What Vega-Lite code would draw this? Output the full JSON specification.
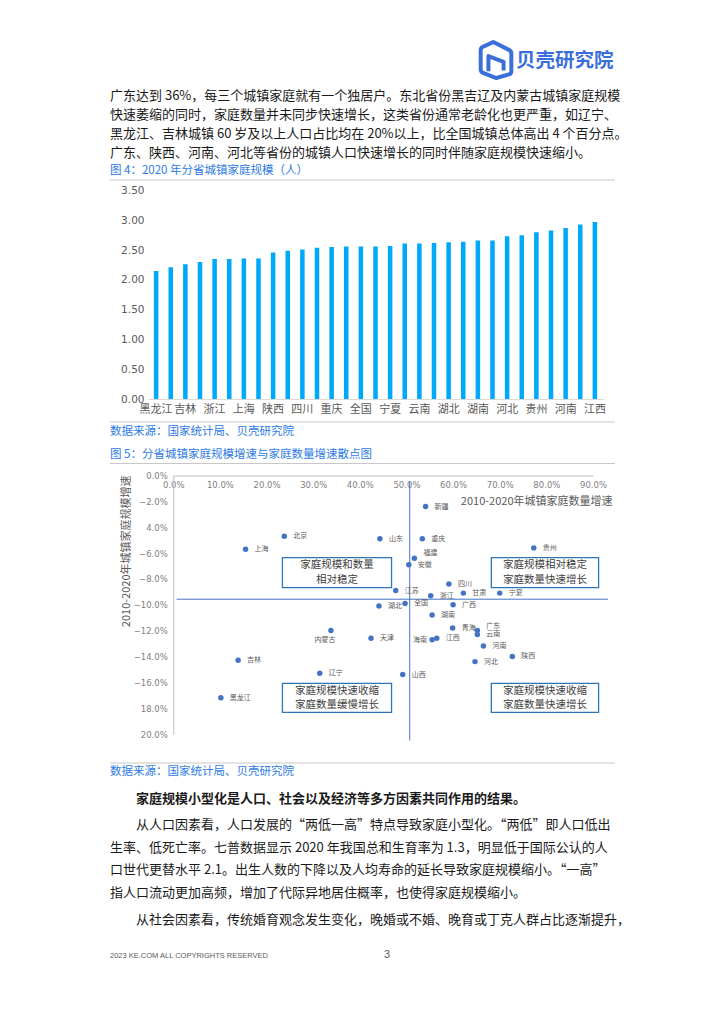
{
  "$schema": "https://vega.github.io/schema/vega-lite/v6.json",
  "width": 724,
  "height": 1024,
  "autosize": {"type": "none"},
  "padding": 0,
  "background": "#ffffff",
  "config": {
    "view": {"stroke": null},
    "font": "Noto Sans CJK SC",
    "axis": {"grid": false, "ticks": false, "labelFont": "DejaVu Sans"}
  },
  "datasets": {
    "bars": [
      {"p": "黑龙江", "v": 2.15}, {"p": "辽宁", "v": 2.21}, {"p": "吉林", "v": 2.26}, {"p": "内蒙古", "v": 2.30},
      {"p": "浙江", "v": 2.35}, {"p": "天津", "v": 2.35}, {"p": "上海", "v": 2.36}, {"p": "北京", "v": 2.36},
      {"p": "陕西", "v": 2.46}, {"p": "广东", "v": 2.49}, {"p": "四川", "v": 2.51}, {"p": "山西", "v": 2.54},
      {"p": "重庆", "v": 2.55}, {"p": "江苏", "v": 2.56}, {"p": "全国", "v": 2.56}, {"p": "山东", "v": 2.56},
      {"p": "宁夏", "v": 2.57}, {"p": "福建", "v": 2.61}, {"p": "云南", "v": 2.61}, {"p": "新疆", "v": 2.62},
      {"p": "湖北", "v": 2.63}, {"p": "安徽", "v": 2.64}, {"p": "湖南", "v": 2.66}, {"p": "青海", "v": 2.66},
      {"p": "河北", "v": 2.73}, {"p": "甘肃", "v": 2.75}, {"p": "贵州", "v": 2.80}, {"p": "广西", "v": 2.83},
      {"p": "河南", "v": 2.87}, {"p": "海南", "v": 2.93}, {"p": "江西", "v": 2.97}
    ],
    "pts": [
      {"p": "新疆", "x": 54.1, "y": -2.4, "lp": "r"},
      {"p": "北京", "x": 23.8, "y": -4.7, "lp": "r"},
      {"p": "山东", "x": 44.3, "y": -4.9, "lp": "r"},
      {"p": "重庆", "x": 53.4, "y": -4.9, "lp": "r"},
      {"p": "贵州", "x": 77.3, "y": -5.6, "lp": "r"},
      {"p": "上海", "x": 15.5, "y": -5.7, "lp": "r"},
      {"p": "福建", "x": 51.7, "y": -6.4, "lp": "u"},
      {"p": "安徽", "x": 50.5, "y": -6.9, "lp": "r"},
      {"p": "四川", "x": 59.1, "y": -8.4, "lp": "r"},
      {"p": "江苏", "x": 47.7, "y": -8.9, "lp": "r"},
      {"p": "甘肃", "x": 62.2, "y": -9.1, "lp": "r"},
      {"p": "宁夏", "x": 70.0, "y": -9.1, "lp": "r"},
      {"p": "浙江", "x": 55.2, "y": -9.3, "lp": "r"},
      {"p": "全国", "x": 49.7, "y": -9.9, "lp": "r"},
      {"p": "广西", "x": 60.0, "y": -10.0, "lp": "r"},
      {"p": "湖北", "x": 44.1, "y": -10.1, "lp": "r"},
      {"p": "湖南", "x": 55.5, "y": -10.8, "lp": "r"},
      {"p": "青海", "x": 59.9, "y": -11.8, "lp": "r"},
      {"p": "广东", "x": 65.2, "y": -12.0, "lp": "u"},
      {"p": "内蒙古", "x": 33.8, "y": -12.0, "lp": "b"},
      {"p": "云南", "x": 65.2, "y": -12.3, "lp": "r"},
      {"p": "天津", "x": 42.4, "y": -12.6, "lp": "r"},
      {"p": "江西", "x": 56.5, "y": -12.6, "lp": "r"},
      {"p": "海南", "x": 55.5, "y": -12.7, "lp": "l"},
      {"p": "河南", "x": 66.5, "y": -13.2, "lp": "r"},
      {"p": "陕西", "x": 72.7, "y": -14.0, "lp": "r"},
      {"p": "吉林", "x": 13.9, "y": -14.3, "lp": "r"},
      {"p": "河北", "x": 64.7, "y": -14.4, "lp": "r"},
      {"p": "辽宁", "x": 31.4, "y": -15.3, "lp": "r"},
      {"p": "山西", "x": 49.2, "y": -15.4, "lp": "r"},
      {"p": "黑龙江", "x": 10.2, "y": -17.2, "lp": "r"}
    ],
    "qlines": [
      {"x": 50.7, "x2": 50.7, "y": -0.5, "y2": -20.5},
      {"x": 0.7, "x2": 93.2, "y": -9.57, "y2": -9.57}
    ],
    "boxes": [
      {"q": "左上", "x": 23.4, "x2": 46.8, "y": -6.36, "y2": -8.67},
      {"q": "右上", "x": 68.2, "x2": 91.2, "y": -6.36, "y2": -8.67},
      {"q": "左下", "x": 23.4, "x2": 46.8, "y": -16.08, "y2": -18.33},
      {"q": "右下", "x": 68.2, "x2": 91.2, "y": -16.08, "y2": -18.33}
    ],
    "boxtext": [
      {"x": 35.1, "y": -6.95, "t": "家庭规模和数量"},
      {"x": 35.1, "y": -8.05, "t": "相对稳定"},
      {"x": 79.7, "y": -6.95, "t": "家庭规模相对稳定"},
      {"x": 79.7, "y": -8.05, "t": "家庭数量快速增长"},
      {"x": 35.1, "y": -16.65, "t": "家庭规模快速收缩"},
      {"x": 35.1, "y": -17.75, "t": "家庭数量缓慢增长"},
      {"x": 79.7, "y": -16.65, "t": "家庭规模快速收缩"},
      {"x": 79.7, "y": -17.75, "t": "家庭数量快速增长"}
    ],
    "txt": [
      {"b": "logo", "n": 1, "t": "贝壳研究院"},
      {"b": "p1", "n": 1, "t": "广东达到 36%，每三个城镇家庭就有一个独居户。东北省份黑吉辽及内蒙古城镇家庭规模"},
      {"b": "p1", "n": 2, "t": "快速萎缩的同时，家庭数量并未同步快速增长，这类省份通常老龄化也更严重，如辽宁、"},
      {"b": "p1", "n": 3, "t": "黑龙江、吉林城镇 60 岁及以上人口占比均在 20%以上，比全国城镇总体高出 4 个百分点。"},
      {"b": "p1", "n": 4, "t": "广东、陕西、河南、河北等省份的城镇人口快速增长的同时伴随家庭规模快速缩小。"},
      {"b": "f4", "n": 1, "t": "图 4：2020 年分省城镇家庭规模（人）"},
      {"b": "s1", "n": 1, "t": "数据来源：国家统计局、贝壳研究院"},
      {"b": "f5", "n": 1, "t": "图 5：分省城镇家庭规模增速与家庭数量增速散点图"},
      {"b": "s2", "n": 1, "t": "数据来源：国家统计局、贝壳研究院"},
      {"b": "b1", "n": 1, "t": "家庭规模小型化是人口、社会以及经济等多方因素共同作用的结果。"},
      {"b": "p2a", "n": 1, "t": "从人口因素看，人口发展的“两低一高”特点导致家庭小型化。“两低”即人口低出"},
      {"b": "p2", "n": 2, "t": "生率、低死亡率。七普数据显示 2020 年我国总和生育率为 1.3，明显低于国际公认的人"},
      {"b": "p2", "n": 3, "t": "口世代更替水平 2.1。出生人数的下降以及人均寿命的延长导致家庭规模缩小。“一高”"},
      {"b": "p2", "n": 4, "t": "指人口流动更加高频，增加了代际异地居住概率，也使得家庭规模缩小。"},
      {"b": "p3", "n": 1, "t": "从社会因素看，传统婚育观念发生变化，晚婚或不婚、晚育或丁克人群占比逐渐提升，"},
      {"b": "ft", "n": 1, "t": "2023 KE.COM ALL COPYRIGHTS  RESERVED"},
      {"b": "pg", "n": 1, "t": "3"}
    ]
  },
  "layer": [
    {
      "data": {"values": [{}]},
      "mark": {"type": "rule", "color": "#c8c8c8", "strokeWidth": 1},
      "encoding": {"x": {"value": 110}, "x2": {"value": 615}, "y": {"value": 180}}
    },
    {
      "data": {"values": [{}]},
      "mark": {"type": "rule", "color": "#c8c8c8", "strokeWidth": 1},
      "encoding": {"x": {"value": 110}, "x2": {"value": 615}, "y": {"value": 422}}
    },
    {
      "data": {"values": [{}]},
      "mark": {"type": "rule", "color": "#c8c8c8", "strokeWidth": 1},
      "encoding": {"x": {"value": 110}, "x2": {"value": 615}, "y": {"value": 463.5}}
    },
    {
      "data": {"values": [{}]},
      "mark": {"type": "rule", "color": "#c8c8c8", "strokeWidth": 1},
      "encoding": {"x": {"value": 110}, "x2": {"value": 615}, "y": {"value": 763}}
    },
    {
      "data": {"values": [{}]},
      "mark": {
        "type": "point",
        "shape": "M -0.15 -1 L 0.72 -0.56 Q 0.85 -0.5 0.85 -0.36 L 0.85 0.62 Q 0.85 0.76 0.72 0.8 L 0.02 1 L -0.72 0.72 Q -0.85 0.66 -0.85 0.52 L -0.85 -0.55 Q -0.85 -0.7 -0.7 -0.74 Z M -0.42 0.62 L -0.42 -0.22 L 0.42 0.1 L 0.42 0.58",
        "x": 496, "y": 60, "size": 1300, "filled": false,
        "color": "#3a6fdb", "strokeWidth": 4, "opacity": 1, "strokeJoin": "round"
      },
      "encoding": {}
    },
    {
      "data": {"name": "txt"},
      "transform": [{"filter": "datum.b === 'logo'"}],
      "mark": {"type": "text", "x": 516, "y": 61, "align": "left", "baseline": "middle", "fontSize": 19.5, "fontWeight": "bold", "color": "#3a6fdb"},
      "encoding": {"text": {"field": "t"}}
    },
    {
      "data": {"name": "txt"},
      "transform": [{"filter": "datum.b === 'p1'"}],
      "mark": {"type": "text", "x": 110, "align": "left", "baseline": "middle", "fontSize": 13, "color": "#1a1a1a"},
      "encoding": {
        "y": {"field": "n", "type": "ordinal", "axis": null, "scale": {"type": "point", "range": [96, 153], "padding": 0}},
        "text": {"field": "t"}
      }
    },
    {
      "data": {"name": "txt"},
      "transform": [{"filter": "datum.b === 'f4'"}],
      "mark": {"type": "text", "x": 110, "y": 171, "align": "left", "baseline": "middle", "fontSize": 11.5, "color": "#2d7be5"},
      "encoding": {"text": {"field": "t"}}
    },
    {
      "data": {"name": "txt"},
      "transform": [{"filter": "datum.b === 's1'"}],
      "mark": {"type": "text", "x": 110, "y": 432, "align": "left", "baseline": "middle", "fontSize": 11.5, "color": "#2d7be5"},
      "encoding": {"text": {"field": "t"}}
    },
    {
      "data": {"name": "txt"},
      "transform": [{"filter": "datum.b === 'f5'"}],
      "mark": {"type": "text", "x": 110, "y": 455, "align": "left", "baseline": "middle", "fontSize": 11.5, "color": "#2d7be5"},
      "encoding": {"text": {"field": "t"}}
    },
    {
      "data": {"name": "txt"},
      "transform": [{"filter": "datum.b === 's2'"}],
      "mark": {"type": "text", "x": 110, "y": 772, "align": "left", "baseline": "middle", "fontSize": 11.5, "color": "#2d7be5"},
      "encoding": {"text": {"field": "t"}}
    },
    {
      "data": {"name": "txt"},
      "transform": [{"filter": "datum.b === 'b1'"}],
      "mark": {"type": "text", "x": 136, "y": 799, "align": "left", "baseline": "middle", "fontSize": 13, "fontWeight": "bold", "color": "#1a1a1a"},
      "encoding": {"text": {"field": "t"}}
    },
    {
      "data": {"name": "txt"},
      "transform": [{"filter": "datum.b === 'p2a'"}],
      "mark": {"type": "text", "x": 136, "y": 825, "align": "left", "baseline": "middle", "fontSize": 13, "color": "#1a1a1a"},
      "encoding": {"text": {"field": "t"}}
    },
    {
      "data": {"name": "txt"},
      "transform": [{"filter": "datum.b === 'p2'"}],
      "mark": {"type": "text", "x": 110, "align": "left", "baseline": "middle", "fontSize": 13, "color": "#1a1a1a"},
      "encoding": {
        "y": {"field": "n", "type": "ordinal", "axis": null, "scale": {"type": "point", "range": [847.7, 893], "padding": 0}},
        "text": {"field": "t"}
      }
    },
    {
      "data": {"name": "txt"},
      "transform": [{"filter": "datum.b === 'p3'"}],
      "mark": {"type": "text", "x": 136, "y": 920, "align": "left", "baseline": "middle", "fontSize": 13, "color": "#1a1a1a"},
      "encoding": {"text": {"field": "t"}}
    },
    {
      "data": {"name": "txt"},
      "transform": [{"filter": "datum.b === 'ft'"}],
      "mark": {"type": "text", "x": 110, "y": 956, "align": "left", "baseline": "middle", "fontSize": 7.5, "font": "Liberation Sans", "color": "#595959"},
      "encoding": {"text": {"field": "t"}}
    },
    {
      "data": {"name": "txt"},
      "transform": [{"filter": "datum.b === 'pg'"}],
      "mark": {"type": "text", "x": 387, "y": 955, "align": "center", "baseline": "middle", "fontSize": 11, "font": "Liberation Sans", "color": "#595959"},
      "encoding": {"text": {"field": "t"}}
    },
    {
      "data": {"name": "bars"},
      "mark": {"type": "bar", "color": "#00a9f7"},
      "encoding": {
        "x": {
          "field": "p", "type": "nominal", "sort": null,
          "scale": {"range": [148, 603], "paddingInner": 0.69, "paddingOuter": 0.4},
          "axis": {
            "orient": "bottom", "offset": -625, "title": null, "labelAngle": 0,
            "values": ["黑龙江", "吉林", "浙江", "上海", "陕西", "四川", "重庆", "全国", "宁夏", "云南", "湖北", "湖南", "河北", "贵州", "河南", "江西"],
            "domainColor": "#d9d9d9", "labelColor": "#595959", "labelFont": "Noto Sans CJK SC", "labelFontSize": 11, "labelPadding": 4
          }
        },
        "y": {
          "field": "v", "type": "quantitative",
          "scale": {"domain": [0, 3.5], "range": [399, 190.5], "nice": false},
          "axis": {
            "orient": "left", "offset": -148, "title": null,
            "values": [0, 0.5, 1, 1.5, 2, 2.5, 3, 3.5], "format": ".2f",
            "domain": false, "labelColor": "#595959", "labelFontSize": 10.5, "labelPadding": 4
          }
        }
      }
    },
    {
      "layer": [
        {
          "data": {"name": "qlines"},
          "mark": {"type": "rule", "color": "#4472c4", "strokeWidth": 1},
          "encoding": {
            "x": {"field": "x", "type": "quantitative",
              "scale": {"domain": [0, 90], "range": [173.3, 593], "nice": false, "zero": false},
              "axis": {
                "orient": "bottom", "offset": -548.5,
                "title": "2010-2020年城镇家庭数量增速", "titleX": 612, "titleY": 26, "titleAlign": "right", "titleBaseline": "middle",
                "titleFont": "Noto Sans CJK SC", "titleFontSize": 11, "titleFontWeight": "normal", "titleColor": "#595959",
                "values": [0, 10, 20, 30, 40, 50, 60, 70, 80, 90],
                "labelExpr": "format(datum.value, '.1f') + '%'",
                "labelFlush": false, "labelFontSize": 8.5, "labelColor": "#7f7f7f", "labelPadding": 5,
                "domainColor": "#bfbfbf"
              }
            },
            "x2": {"field": "x2"},
            "y": {"field": "y", "type": "quantitative",
              "scale": {"domain": [-20, 0], "range": [734, 475.5], "nice": false, "zero": false},
              "axis": {
                "orient": "left", "offset": -173.3,
                "title": "2010-2020年城镇家庭规模增速", "titleX": -47, "titleY": 475, "titleAlign": "right", "titleBaseline": "middle", "titleAngle": 270,
                "titleFont": "Noto Sans CJK SC", "titleFontSize": 11, "titleFontWeight": "normal", "titleColor": "#595959",
                "values": [0, -2, -4, -6, -8, -10, -12, -14, -16, -18, -20],
                "labelExpr": "(datum.value == -4 || datum.value == -18 || datum.value == -20 ? format(-datum.value, '.1f') : format(datum.value, '.1f')) + '%'",
                "labelFlush": false, "labelFontSize": 8.5, "labelColor": "#7f7f7f", "labelPadding": 6,
                "domainColor": "#bfbfbf"
              }
            },
            "y2": {"field": "y2"}
          }
        },
        {
          "data": {"name": "boxes"},
          "mark": {"type": "rect", "fill": "#ffffff", "stroke": "#2e75b6", "strokeWidth": 1.3},
          "encoding": {
            "x": {"field": "x", "type": "quantitative"},
            "x2": {"field": "x2"},
            "y": {"field": "y", "type": "quantitative"},
            "y2": {"field": "y2"}
          }
        },
        {
          "data": {"name": "boxtext"},
          "mark": {"type": "text", "align": "center", "baseline": "middle", "fontSize": 10.5, "color": "#404040"},
          "encoding": {
            "x": {"field": "x", "type": "quantitative"},
            "y": {"field": "y", "type": "quantitative"},
            "text": {"field": "t"}
          }
        },
        {
          "data": {"name": "pts"},
          "mark": {"type": "point", "filled": true, "size": 30, "color": "#4472c4", "opacity": 1},
          "encoding": {
            "x": {"field": "x", "type": "quantitative"},
            "y": {"field": "y", "type": "quantitative"}
          }
        },
        {
          "data": {"name": "pts"},
          "transform": [{"filter": "datum.lp === 'r'"}],
          "mark": {"type": "text", "align": "left", "baseline": "middle", "dx": 9, "fontSize": 7, "color": "#595959"},
          "encoding": {
            "x": {"field": "x", "type": "quantitative"},
            "y": {"field": "y", "type": "quantitative"},
            "text": {"field": "p"}
          }
        },
        {
          "data": {"name": "pts"},
          "transform": [{"filter": "datum.lp === 'l'"}],
          "mark": {"type": "text", "align": "right", "baseline": "middle", "dx": -5, "fontSize": 7, "color": "#595959"},
          "encoding": {
            "x": {"field": "x", "type": "quantitative"},
            "y": {"field": "y", "type": "quantitative"},
            "text": {"field": "p"}
          }
        },
        {
          "data": {"name": "pts"},
          "transform": [{"filter": "datum.lp === 'b'"}],
          "mark": {"type": "text", "align": "center", "baseline": "middle", "dx": -6, "dy": 9, "fontSize": 7, "color": "#595959"},
          "encoding": {
            "x": {"field": "x", "type": "quantitative"},
            "y": {"field": "y", "type": "quantitative"},
            "text": {"field": "p"}
          }
        },
        {
          "data": {"name": "pts"},
          "transform": [{"filter": "datum.lp === 'u'"}],
          "mark": {"type": "text", "align": "left", "baseline": "middle", "dx": 9, "dy": -5, "fontSize": 7, "color": "#595959"},
          "encoding": {
            "x": {"field": "x", "type": "quantitative"},
            "y": {"field": "y", "type": "quantitative"},
            "text": {"field": "p"}
          }
        }
      ]
    }
  ],
  "resolve": {
    "scale": {"x": "independent", "y": "independent"},
    "axis": {"x": "independent", "y": "independent"}
  }
}
